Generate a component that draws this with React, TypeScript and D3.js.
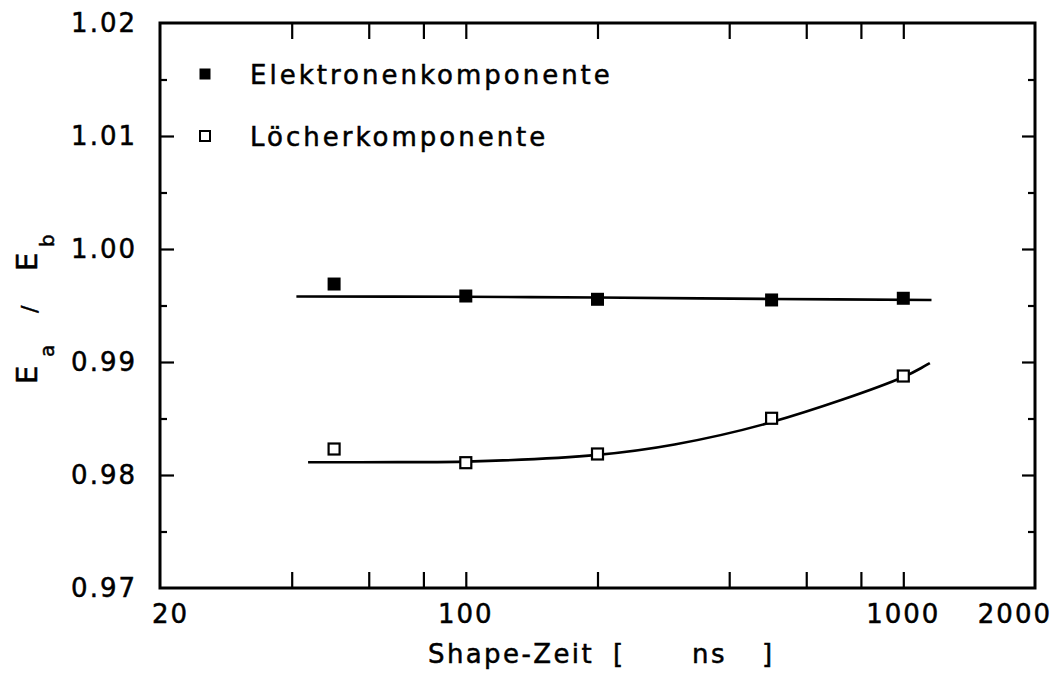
import * as d3 from "d3";
import { useEffect, useRef } from "react";

// tick values
const xTicks = [40, 60, 80, 100, 200, 400, 600, 800, 1000];
const xTickLabels = [20, 100, 1000, 2000];
const yMajor = [0.97, 0.98, 0.99, 1.0, 1.01, 1.02];
const yMinor = [0.975, 0.985, 0.995, 1.005, 1.015];

// measured points (shape time in ns)
const shapeTimes = [50, 100, 200, 500, 1000];
const elektronValues = [0.9969, 0.99584, 0.99555, 0.99549, 0.99564];
const loecherValues = [0.9823, 0.98109, 0.98186, 0.98502, 0.98876];

// fit curves
const elektronFitX = [41, 100, 200, 500, 1160];
const elektronFitY = [0.9958, 0.99577, 0.99571, 0.99558, 0.99549];
const loecherFitX = [43.6, 70, 100, 200, 300, 500, 1000, 1150];
const loecherFitY = [0.98113, 0.98114, 0.98118, 0.98178, 0.9827, 0.98468, 0.98867, 0.98991];

const legendLabels = ["Elektronenkomponente", "Löcherkomponente"];

const App = () => {
    const svgRef = useRef<SVGSVGElement | null>(null);

    useEffect(() => {
        if (!svgRef.current) return;

        const width = 1059;
        const height = 689;
        const left = 160, right = 1035, top = 23, bottom = 588;
        const font = "DejaVu Sans";

        const svg = d3.select(svgRef.current)
            .attr("width", width)
            .attr("height", height)
            .style("background", "#fff");
        svg.selectAll("*").remove();

        const x = d3.scaleLog().domain([20, 2000]).range([left, right]);
        const y = d3.scaleLinear().domain([0.97, 1.02]).range([bottom, top]);

        // frame
        svg.append("rect")
            .attr("x", left).attr("y", top)
            .attr("width", right - left).attr("height", bottom - top)
            .attr("fill", "none").attr("stroke", "#000").attr("stroke-width", 3);

        // ticks (inward, all four sides)
        const tickStyle = (g: d3.Selection<SVGGElement, unknown, null, undefined>) => {
            g.select(".domain").remove();
            g.selectAll("line").attr("stroke", "#000").attr("stroke-width", 2.2);
            g.selectAll("text").remove();
        };
        svg.append("g").attr("transform", `translate(0,${bottom})`)
            .call(d3.axisBottom(x).tickValues(xTicks).tickSize(-16)).call(tickStyle);
        svg.append("g").attr("transform", `translate(0,${top})`)
            .call(d3.axisTop(x).tickValues(xTicks).tickSize(-16)).call(tickStyle);
        svg.append("g").attr("transform", `translate(${left},0)`)
            .call(d3.axisLeft(y).tickValues(yMajor.slice(1, -1)).tickSize(-14)).call(tickStyle);
        svg.append("g").attr("transform", `translate(${left},0)`)
            .call(d3.axisLeft(y).tickValues(yMinor).tickSize(-7)).call(tickStyle);
        svg.append("g").attr("transform", `translate(${right},0)`)
            .call(d3.axisRight(y).tickValues(yMajor.slice(1, -1)).tickSize(-13)).call(tickStyle);
        svg.append("g").attr("transform", `translate(${right},0)`)
            .call(d3.axisRight(y).tickValues(yMinor).tickSize(-7)).call(tickStyle);

        const textWeight = (s: d3.Selection<any, any, any, any>) =>
            s.attr("font-family", font).attr("stroke", "#000").attr("stroke-width", 0.5).attr("fill", "#000");

        // y tick labels
        svg.append("g").selectAll("text")
            .data(yMajor)
            .join("text")
            .attr("x", left - 23)
            .attr("y", d => y(d))
            .attr("dy", "0.36em")
            .attr("text-anchor", "end")
            .attr("font-size", 26)
            .attr("letter-spacing", 2)
            .call(textWeight)
            .text(d => d.toFixed(2));

        // x tick labels
        svg.append("g").selectAll("text")
            .data(xTickLabels)
            .join("text")
            .attr("x", (d, i) => i === 0 ? x(d) - 8 : i === xTickLabels.length - 1 ? x(d) + 17 : x(d))
            .attr("y", bottom + 35)
            .attr("text-anchor", (d, i) => i === 0 ? "start" : i === xTickLabels.length - 1 ? "end" : "middle")
            .attr("font-size", 26)
            .attr("letter-spacing", 2)
            .call(textWeight)
            .text(d => String(d));

        // x axis title
        const xt = svg.append("text")
            .attr("y", 663)
            .attr("font-size", 26)
            .attr("letter-spacing", 2.4)
            .call(textWeight);
        xt.append("tspan").attr("x", 428).text("Shape-Zeit");
        xt.append("tspan").attr("x", 613).text("[");
        xt.append("tspan").attr("x", 692).text("ns");
        xt.append("tspan").attr("x", 762).text("]");

        // y axis title (rotated)
        const yt = svg.append("text")
            .attr("transform", "translate(37,0) rotate(-90)")
            .attr("font-size", 29)
            .call(textWeight);
        yt.append("tspan").attr("x", -384).attr("y", 0).text("E");
        yt.append("tspan").attr("x", -357).attr("y", 17).attr("font-size", 20).text("a");
        yt.append("tspan").attr("x", -313).attr("y", 0).attr("font-size", 22).text("/");
        yt.append("tspan").attr("x", -271).attr("y", 0).text("E");
        yt.append("tspan").attr("x", -247).attr("y", 17).attr("font-size", 20).text("b");

        // fit curves
        const line = d3.line<[number, number]>()
            .x(d => x(d[0]))
            .y(d => y(d[1]))
            .curve(d3.curveCatmullRom.alpha(0.5));
        const fits: [number[], number[]][] = [[elektronFitX, elektronFitY], [loecherFitX, loecherFitY]];
        fits.forEach(([fx, fy]) => {
            svg.append("path")
                .datum(fx.map((v, i) => [v, fy[i]] as [number, number]))
                .attr("fill", "none")
                .attr("stroke", "#000")
                .attr("stroke-width", 2.6)
                .attr("d", line);
        });

        // markers
        const size = 13;
        svg.append("g").selectAll("rect")
            .data(shapeTimes.map((t, i) => [t, elektronValues[i]]))
            .join("rect")
            .attr("x", d => x(d[0]) - size / 2)
            .attr("y", d => y(d[1]) - size / 2)
            .attr("width", size).attr("height", size)
            .attr("fill", "#000");
        svg.append("g").selectAll("rect")
            .data(shapeTimes.map((t, i) => [t, loecherValues[i]]))
            .join("rect")
            .attr("x", d => x(d[0]) - (size - 2) / 2)
            .attr("y", d => y(d[1]) - (size - 2) / 2)
            .attr("width", size - 2).attr("height", size - 2)
            .attr("fill", "#fff").attr("stroke", "#000").attr("stroke-width", 2.2);

        // legend
        const legend = svg.append("g");
        legendLabels.forEach((label, i) => {
            const cy = 74 + i * 62;
            legend.append("rect")
                .attr("x", 200).attr("y", cy - 5)
                .attr("width", 10).attr("height", 10)
                .attr("fill", i === 0 ? "#000" : "#fff")
                .attr("stroke", "#000").attr("stroke-width", i === 0 ? 1 : 2);
            legend.append("text")
                .attr("x", 250).attr("y", cy + 10)
                .attr("font-size", 26)
                .attr("letter-spacing", 3)
                .call(textWeight)
                .text(label);
        });
    }, []);

    return <svg ref={svgRef} style={{ position: "absolute", left: 0, top: 0, display: "block" }}></svg>;
};

export default App;
